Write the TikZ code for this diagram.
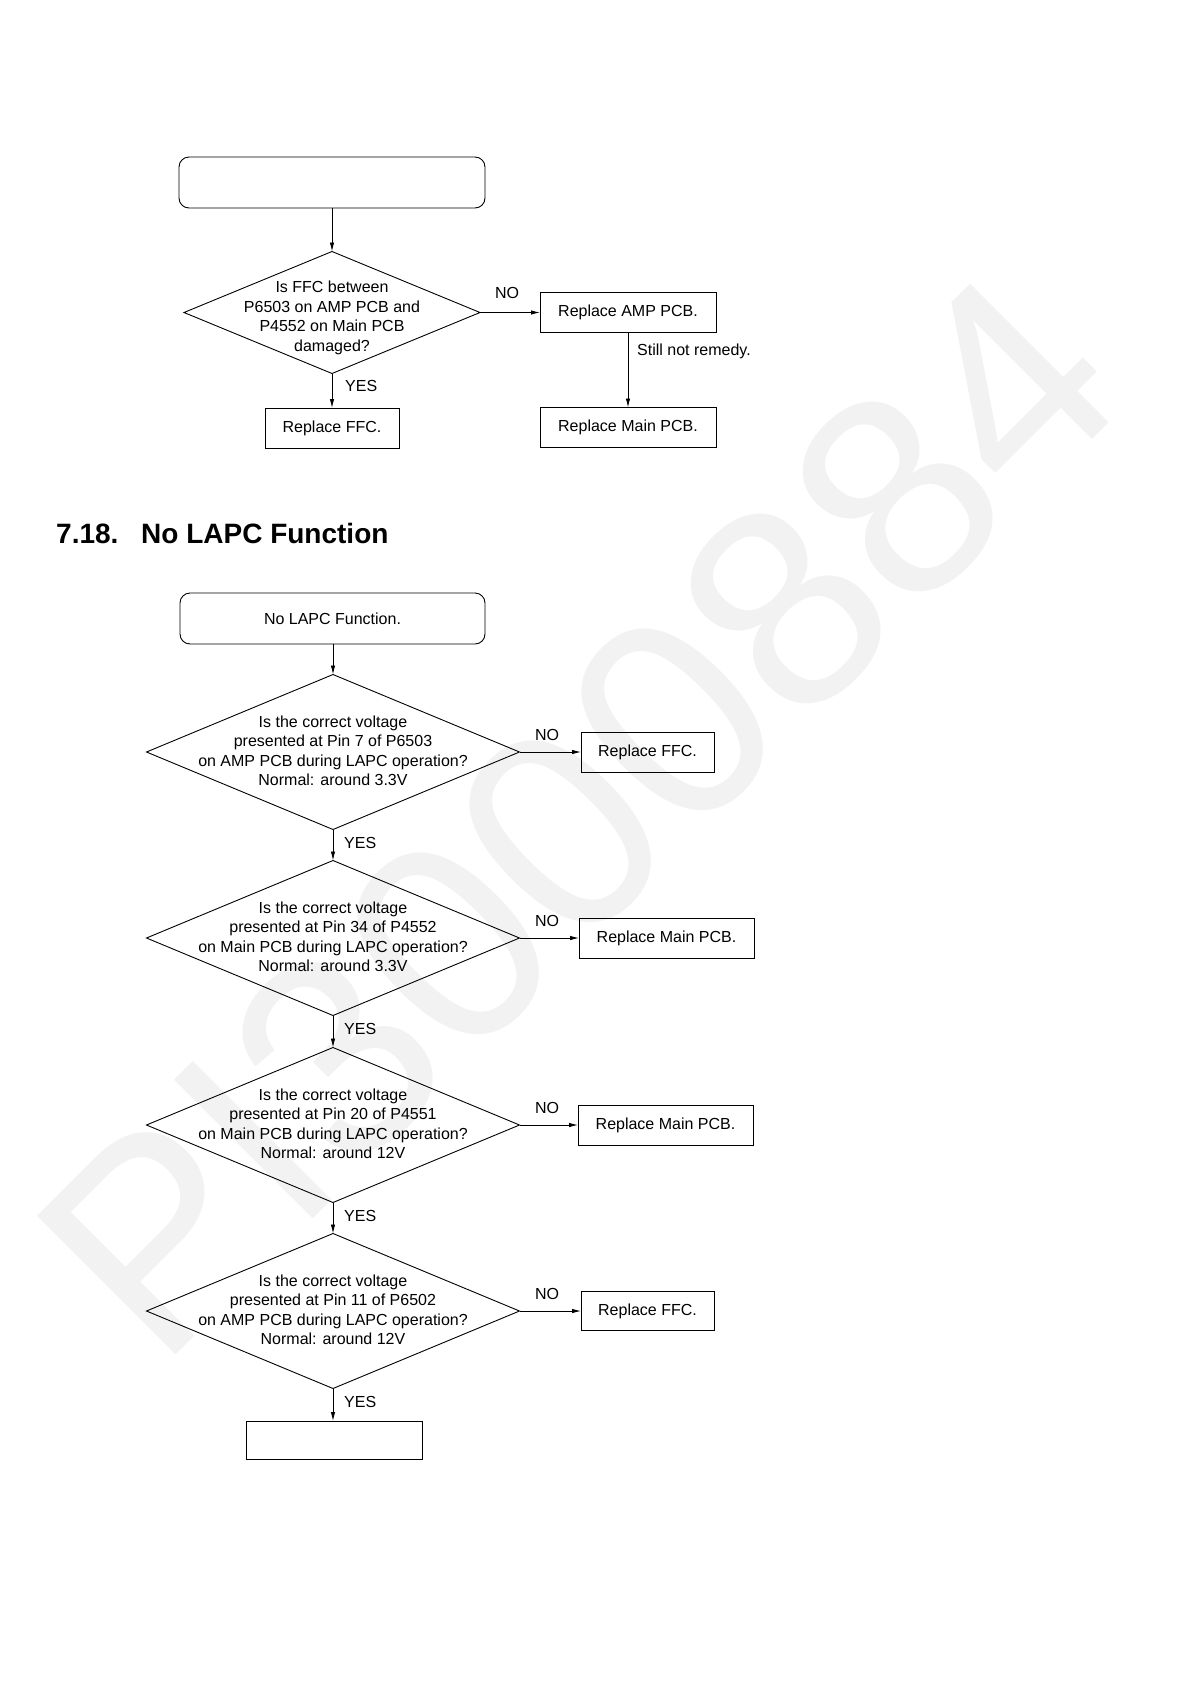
\documentclass[tikz,border=0pt]{standalone}
\usepackage{fontspec}
\setmainfont{Liberation Sans}
\usetikzlibrary{shapes.geometric,arrows.meta}
\begin{document}
\begin{tikzpicture}[x=1pt,y=-1pt,
  every node/.style={font=\fontsize{16}{19.5}\selectfont, text=black},
  box/.style={draw, line width=0.9pt, rectangle, minimum height=40pt, inner sep=0pt, outer sep=0pt},
  startbox/.style={draw, line width=0.9pt, rectangle, rounded corners=10pt, minimum width=305pt, minimum height=51pt, inner sep=0pt, outer sep=0pt},
  dia/.style={draw, line width=0.9pt, diamond, inner sep=0pt, outer sep=0pt, minimum width=373pt, minimum height=155pt},
  dtext/.style={align=center, inner sep=0pt},
  conn/.style={line width=0.9pt, -{Latex[length=9pt,width=4.5pt]}},
  lbl/.style={inner sep=0pt},
  ttlfont/.style={font=\fontsize{28}{32}\selectfont\bfseries, inner sep=0pt, anchor=base west},
]
\useasboundingbox (0,0) rectangle (1190,1684);
\fill[white] (0,0) rectangle (1190,1684);

% watermark
\node[font=\fontsize{285}{300}\selectfont, text=black!5, rotate=45, inner sep=0pt] (wm) at (578,815) {PI3000884};

% ---------- upper flow ----------
\node[startbox, minimum width=306pt] (s0) at (332,182.5) {};
\node[dia, minimum width=296pt, minimum height=122pt] (d0) at (332,312.5) {};
\node[dtext] (t0) at (332,318) {Is FFC between\\P6503 on AMP PCB and\\P4552 on Main PCB\\damaged?};
\node[box, minimum width=176pt] (amp) at (628,312.5) {Replace AMP PCB.};
\node[box, minimum width=176pt] (m0) at (628,427.5) {Replace Main PCB.};
\node[box, minimum width=134pt] (f0) at (332,428) {Replace FFC.};

\draw[conn] (s0.south) -- (s0.south |- d0.north);
\draw[conn] (d0.east) -- (d0.east -| amp.west);
\draw[conn] (d0.south) -- (d0.south |- f0.north);
\draw[conn] (amp.south) -- (amp.south |- m0.north);

\node[lbl] (no0) at (507,293) {NO};
\node[lbl, anchor=west] (yes0) at (345,386) {YES};
\node[lbl, anchor=west] (rem) at (637,351) {Still not remedy.};

% ---------- title ----------
\node[ttlfont] (num) at (56,543) {7.18.};
\node[ttlfont] (ttl) at (141,543) {No LAPC Function};

% ---------- LAPC flow ----------
\node[startbox] (s1) at (332.5,618.5) {No LAPC Function.};

\node[dia] (d1) at (333,752) {};
\node[dtext] (t1) at (333,751) {Is the correct voltage\\presented at Pin 7 of P6503\\on AMP PCB during LAPC operation?\\Normal: around 3.3V};
\node[dia] (d2) at (333,938) {};
\node[dtext] (t2) at (333,937) {Is the correct voltage\\presented at Pin 34 of P4552\\on Main PCB during LAPC operation?\\Normal: around 3.3V};
\node[dia] (d3) at (333,1125) {};
\node[dtext] (t3) at (333,1124) {Is the correct voltage\\presented at Pin 20 of P4551\\on Main PCB during LAPC operation?\\Normal: around 12V};
\node[dia] (d4) at (333,1311) {};
\node[dtext] (t4) at (333,1310) {Is the correct voltage\\presented at Pin 11 of P6502\\on AMP PCB during LAPC operation?\\Normal: around 12V};

\node[box, minimum width=133pt] (f1) at (647.5,752) {Replace FFC.};
\node[box, minimum width=175pt] (m1) at (666.5,938) {Replace Main PCB.};
\node[box, minimum width=175pt] (m2) at (665.5,1125) {Replace Main PCB.};
\node[box, minimum width=133pt, minimum height=39pt] (f2) at (647.5,1311) {Replace FFC.};
\node[box, minimum width=176pt, minimum height=38pt] (e1) at (334.5,1440) {};

\draw[conn] (s1.south -| d1.north) -- (d1.north);
\draw[conn] (d1.south) -- (d2.north);
\draw[conn] (d2.south) -- (d3.north);
\draw[conn] (d3.south) -- (d4.north);
\draw[conn] (d4.south) -- (d4.south |- e1.north);

\draw[conn] (d1.east) -- (f1.west);
\draw[conn] (d2.east) -- (m1.west);
\draw[conn] (d3.east) -- (m2.west);
\draw[conn] (d4.east) -- (f2.west);

\node[lbl] (no1) at (547,735) {NO};
\node[lbl] (no2) at (547,921) {NO};
\node[lbl] (no3) at (547,1108) {NO};
\node[lbl] (no4) at (547,1294) {NO};

\node[lbl, anchor=west] (yes1) at (344,843) {YES};
\node[lbl, anchor=west] (yes2) at (344,1029) {YES};
\node[lbl, anchor=west] (yes3) at (344,1216) {YES};
\node[lbl, anchor=west] (yes4) at (344,1402) {YES};
\end{tikzpicture}
\end{document}
